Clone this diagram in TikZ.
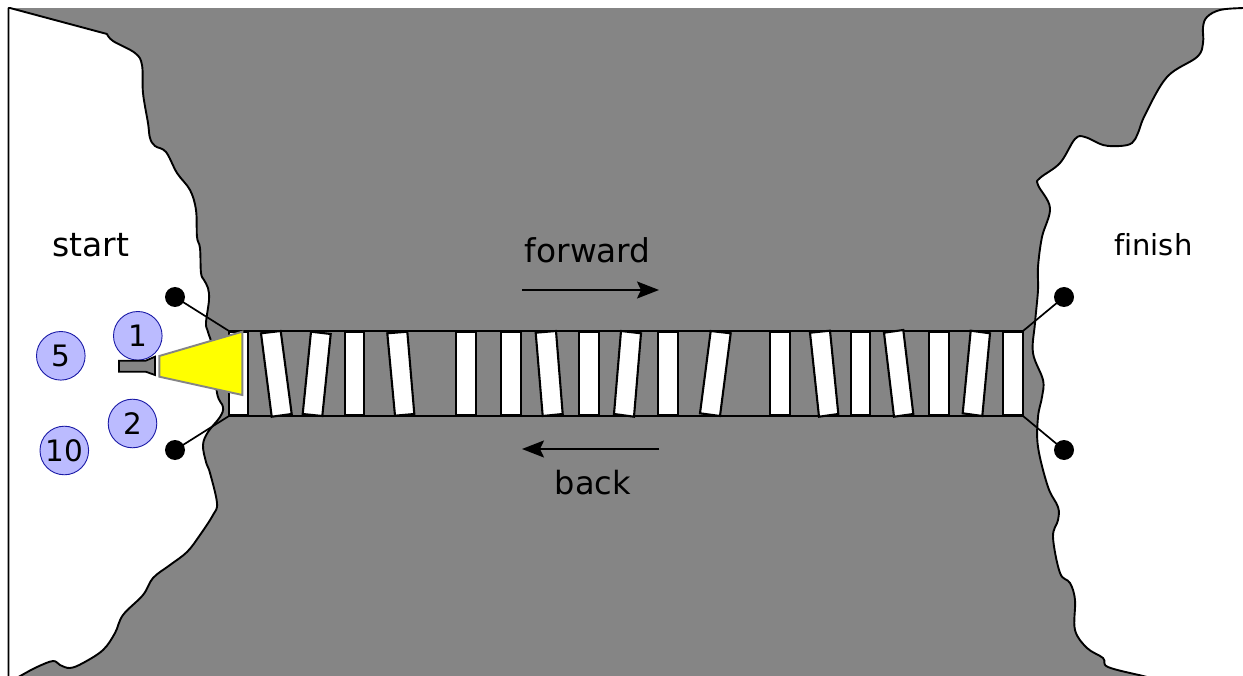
\documentclass[tikz,border=0pt]{standalone}
\usepackage{fontspec}
\setmainfont[Ligatures=NoCommon]{DejaVu Sans}
\usetikzlibrary{arrows.meta}
\definecolor{water}{HTML}{858585}
\definecolor{bulb}{HTML}{FFFF00}
\definecolor{disc}{HTML}{BBBBFF}
\definecolor{discline}{HTML}{1A1AA6}
\newcommand{\dropnum}[1]{\raisebox{-1pt}{\hspace{.6pt}#1}}
\tikzset{
  x=1pt,y=-1pt,
  coast/.style={draw=black,line width=1.9pt,fill=white,line join=round},
  plank/.style={draw=black,line width=2.1pt,fill=white,line join=miter},
  rail/.style={draw=black,line width=1.7pt},
  post/.style={circle,fill=black,draw=none,minimum size=20pt,inner sep=0pt},
  tie/.style={draw=black,line width=1.7pt},
  walker/.style={circle,fill=disc,draw=discline,line width=.9pt,minimum size=48.6pt,inner sep=0pt,font=\fontsize{29.5}{29.5}\selectfont},
  lab/.style={anchor=base,inner sep=0pt,text=black},
  dir/.style={draw=black,line width=1.8pt,-{Stealth[length=22pt,width=17pt,inset=4pt]}},
}
\begin{document}
\begin{tikzpicture}
\useasboundingbox (0,0) rectangle (1243,676);
\fill[white] (0,0) rectangle (1243,676);
\fill[water] (8.5,7.7) rectangle (1243,676);
% left land
\draw[coast] (8.5,8) -- (10,8) -- (107,34)
  -- plot[smooth,tension=.6] coordinates {(107,34) (113,41) (135,53) (142,65) (143,93) (148,123) (150,138) (155,146) (166,152) (177,173) (190,190) (196,210) (197,237) (200,248) (201,273) (204,280) (208,288) (209,300) (206,323) (208,332) (213,350) (217,393) (223,407) (220,417) (208,432) (203,445) (206,462) (210,473) (217,503) (213,515) (200,535) (187,552) (170,565) (153,578) (143,595) (123,615) (115,633) (103,650) (83,663) (70,668) (60,665) (53,661) (37,667) (22,675) (8,683)}
  -- (8.5,690) -- cycle;
% right land
\draw[coast] plot[smooth,tension=.6] coordinates {(1260,8) (1243,8) (1220,10) (1207,17) (1203,27) (1203,43) (1197,57) (1167,77) (1145,115) (1138,133) (1132,143) (1120,146) (1103,145) (1085,137) (1075,139) (1060,163) (1040,178) (1038,185) (1050,208) (1042,237) (1038,267) (1038,290) (1035,323) (1033,353) (1043,380) (1042,397) (1038,417) (1038,447) (1048,487) (1058,507) (1058,520) (1053,537) (1060,573) (1070,583) (1075,600) (1075,630) (1087,648) (1103,658) (1108,667) (1143,676) (1160,680)}
  -- (1270,690) -- (1270,8) -- cycle;
% bridge deck
\coordinate (nw) at (229,331);
\coordinate (sw) at (229,416);
\coordinate (ne) at (1023,331);
\coordinate (se) at (1023,416);
\fill[water] (nw) rectangle (se);
\draw[rail] (nw) -- (ne);
\draw[rail] (sw) -- (se);
% planks
\draw[plank] (229,331.5) rectangle (248,415.5);
\draw[plank] (261,333.3) -- (280.7,331) -- (291.7,414) -- (271.7,416.7) -- cycle;
\draw[plank] (311,331.7) -- (330.7,334) -- (322.3,416) -- (302.7,414) -- cycle;
\draw[plank] (345,331.5) rectangle (364.3,415.5);
\draw[plank] (387.3,333.3) -- (407.3,331.7) -- (414.3,414) -- (395,415.7) -- cycle;
\draw[plank] (456,331.5) rectangle (476,415.5);
\draw[plank] (501,331.5) rectangle (521,415.5);
\draw[plank] (535.7,332.7) -- (556,331) -- (562.7,414) -- (542.7,416) -- cycle;
\draw[plank] (579.3,331.5) rectangle (599.3,415.5);
\draw[plank] (621,331) -- (641,333.3) -- (634,416.7) -- (614,414) -- cycle;
\draw[plank] (657.7,331.5) rectangle (677.7,415.5);
\draw[plank] (710.7,331) -- (730.7,333.3) -- (720,416) -- (700,413.3) -- cycle;
\draw[plank] (770,331.5) rectangle (790,415.5);
\draw[plank] (810,332.7) -- (830,330.7) -- (838.3,414) -- (819,416.7) -- cycle;
\draw[plank] (850.7,331.5) rectangle (870,415.5);
\draw[plank] (884,332.7) -- (903.3,330) -- (913.3,414) -- (894,416.7) -- cycle;
\draw[plank] (929,331.5) rectangle (948.7,415.5);
\draw[plank] (970.7,330.7) -- (990,333.3) -- (982.3,416) -- (962.7,413.3) -- cycle;
\draw[plank] (1002.7,331.5) rectangle (1022.7,415.5);
% posts and ties
\node[post] (p1) at (175,297) {};
\node[post] (p2) at (175,450) {};
\node[post] (p3) at (1064,297) {};
\node[post] (p4) at (1064,450) {};
\draw[tie] (p1.center) -- (nw);
\draw[tie] (p2.center) -- (sw);
\draw[tie] (p3.center) -- (ne);
\draw[tie] (p4.center) -- (se);
% people
\node[walker] (n1) at (137.8,335.8) {\dropnum{1}};
\node[walker] (n5) at (60.8,355.8) {\dropnum{5}};
\node[walker] (n2) at (132.5,423.5) {\dropnum{2}};
\node[walker] (n10) at (64.3,450.5) {\dropnum{10}};
% torch
\draw[fill=water,draw=black,line width=1.8pt] (119,360.7) -- (145.7,360.7) -- (155,356.7) -- (155,375) -- (145.7,371.7) -- (119,371.7) -- cycle;
\draw[fill=bulb,draw=water,line width=1.9pt] (159.3,356) -- (242.3,331.7) -- (242.3,395) -- (159.3,376.7) -- cycle;
% labels
\node[lab,font=\fontsize{33}{33}\selectfont] (tstart) at (90.6,256.8) {start};
\node[lab,font=\fontsize{29}{29}\selectfont] (tfinish) at (1153.3,255.8) {finish};
\node[lab,font=\fontsize{32.8}{32.8}\selectfont] (tforward) at (587.8,262.8) {forward};
\node[lab,font=\fontsize{32}{32}\selectfont] (tback) at (592.8,494.8) {back};
\coordinate (fa) at (522,290);
\coordinate (fb) at (659,290);
\coordinate (ba) at (659,449);
\coordinate (bb) at (522,449);
\draw[dir] (fa) -- (fb);
\draw[dir] (ba) -- (bb);
\end{tikzpicture}
\end{document}
